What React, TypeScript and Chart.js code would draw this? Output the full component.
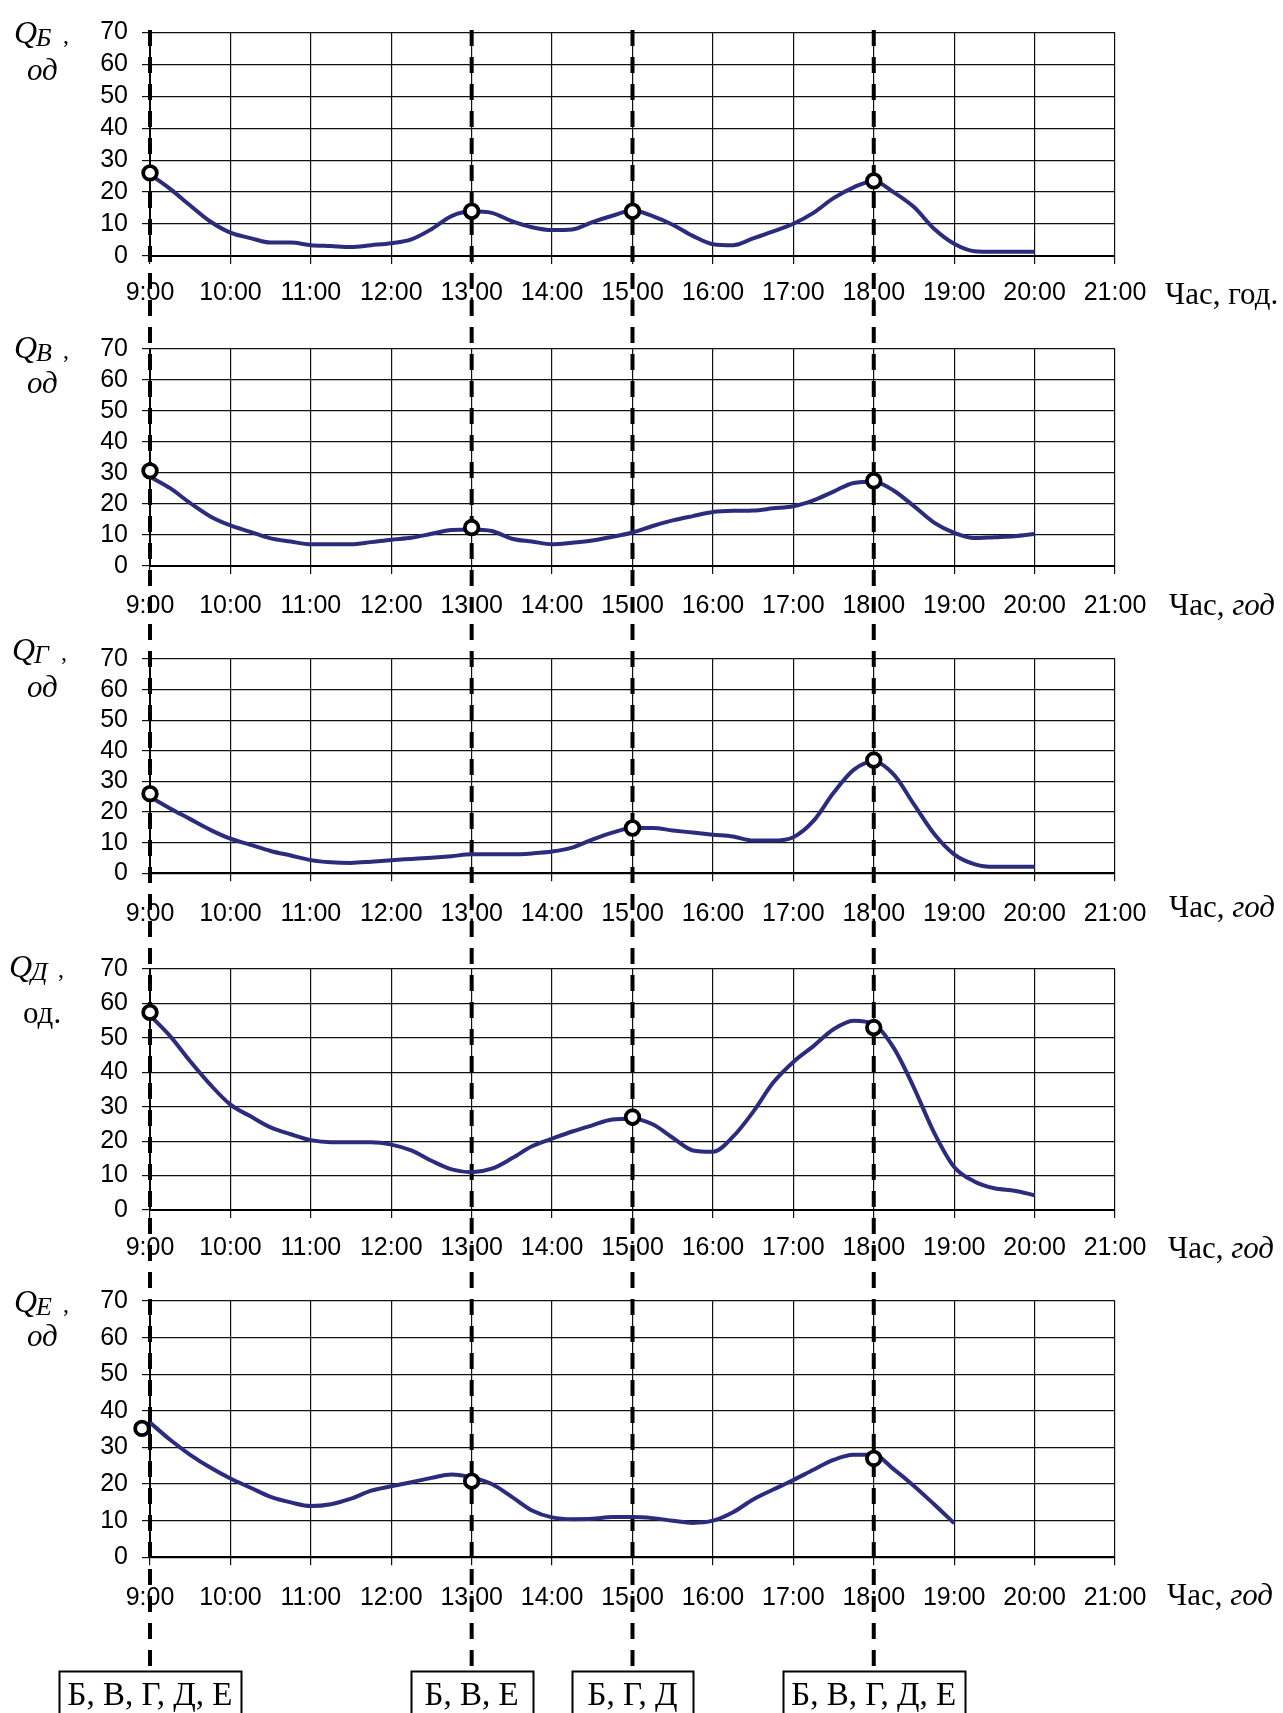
import React, { useEffect, useRef } from 'react';
import { Chart, registerables } from 'chart.js';

Chart.register(...registerables);

// ---------- DATA ----------
const TIMES = [
  9, 9.25, 9.5, 9.75, 10, 10.25, 10.5, 10.75, 11, 11.25, 11.5, 11.75,
  12, 12.25, 12.5, 12.75, 13, 13.25, 13.5, 13.75, 14, 14.25, 14.5, 14.75,
  15, 15.25, 15.5, 15.75, 16, 16.25, 16.5, 16.75, 17, 17.25, 17.5, 17.75,
  18, 18.25, 18.5, 18.75, 19, 19.25, 19.5, 19.75, 20,
];

const X_TICK_LABELS = [
  '9:00', '10:00', '11:00', '12:00', '13:00', '14:00', '15:00',
  '16:00', '17:00', '18:00', '19:00', '20:00', '21:00',
];

const Q_B = [25.5, 21, 15.8, 10.8, 7.3, 5.6, 4.2, 4.2, 3.4, 3.1, 2.8, 3.4, 4.0, 5.2, 8.4, 12.5, 14.0, 13.5, 10.9, 9.0, 8.1, 8.3, 10.6, 12.6, 14.2, 12.5, 9.8, 6.3, 3.7, 3.4, 5.5, 7.7, 10.1, 13.5, 18.1, 21.5, 23.5, 19.9, 15.3, 8.5, 3.8, 1.5, 1.3, 1.3, 1.3];
const Q_V = [28.8, 25.1, 20.3, 16.0, 13.1, 11.0, 8.9, 7.9, 7.0, 7.0, 7.0, 7.7, 8.5, 9.1, 10.4, 11.6, 11.8, 11.3, 8.8, 7.9, 7.0, 7.5, 8.2, 9.4, 10.8, 12.9, 14.7, 16.1, 17.4, 17.8, 17.9, 18.6, 19.3, 21.2, 24.0, 26.8, 27.2, 24.3, 19.3, 14.0, 10.7, 9.0, 9.3, 9.6, 10.3];
const Q_G = [25, 21.2, 17.7, 14.2, 11.3, 9.3, 7.3, 5.8, 4.3, 3.6, 3.4, 3.8, 4.3, 4.7, 5.1, 5.6, 6.2, 6.2, 6.2, 6.5, 7.1, 8.4, 11.0, 13.3, 14.8, 14.8, 14.0, 13.3, 12.6, 12.0, 10.7, 10.7, 11.8, 17.1, 26.3, 33.8, 36.5, 32.2, 22.5, 12.9, 6.2, 3.0, 2.1, 2.1, 2.1];
const Q_D = [56.5, 50.5, 43.2, 36.4, 30.6, 27.2, 24.0, 22.0, 20.3, 19.7, 19.7, 19.7, 19.0, 17.3, 14.3, 11.8, 11.0, 12.0, 15.0, 18.5, 20.7, 22.8, 24.6, 26.3, 26.5, 24.9, 21.0, 17.3, 16.9, 21.3, 28.5, 37.0, 43.0, 47.6, 52.5, 55.0, 54.0, 47.0, 35.5, 22.5, 12.5, 8.3, 6.3, 5.6, 4.3];
const Q_E = [36.8, 32.1, 28.0, 24.5, 21.5, 19.0, 16.5, 15.0, 14.0, 14.5, 16.0, 18.2, 19.4, 20.5, 21.7, 22.6, 21.8, 20.0, 16.5, 12.8, 10.9, 10.4, 10.5, 11.0, 11.0, 10.7, 10.0, 9.4, 10.0, 12.3, 15.8, 18.5, 21.1, 23.9, 26.6, 28.0, 28.0, 24.0, 19.5, 14.5, 9.3];

const MARK_B_T = [9, 13, 15, 18];
const MARK_B_V = [26, 14, 14, 23.5];
const MARK_V_T = [9, 13, 18];
const MARK_V_V = [30.7, 12.4, 27.5];
const MARK_G_T = [9, 15, 18];
const MARK_G_V = [26, 14.8, 37];
const MARK_D_T = [9, 15, 18];
const MARK_D_V = [57.4, 27, 53];
const MARK_E_T = [8.9, 13, 18];
const MARK_E_V = [35.2, 20.8, 27];

const DASH_TIMES = [9, 13, 15, 18];
const BOX_LABELS = ['Б, В, Г, Д, Е', 'Б, В, Е', 'Б, Г, Д', 'Б, В, Г, Д, Е'];

// ---------- LAYOUT / STYLE ----------
const W = 1283;
const PLOT_LEFT = 150;
const PLOT_RIGHT = 1115;
const SANS = "'Liberation Sans', Arial, sans-serif";
const SERIF = "'Liberation Serif', 'Times New Roman', serif";
const LINE_COLOR = '#2c2c7e';
const GRID_COLOR = '#111111';
const DASH_TOP = 30;
const DASH_PATTERN = [16, 11];
const BOX_TOP = 1671;
const BOX_TEXT_BASE = 1705;
const BOX_WIDTHS = [182, 122, 121, 182];
const TICK_FONT_SIZE = 25;

type PanelCfg = {
  series: number[];
  markT: number[];
  markV: number[];
  sub: string;
  od: string;
  odItalic: boolean;
  axisItalic: boolean;
  canvasTop: number;
  canvasH: number;
  plotTop: number;
  plotBottom: number;
  xPad: number;
  qLeft: number;
  qBase: number;
  odLeft: number;
  odBase: number;
  axLeft: number;
  axBase: number;
  last: boolean;
};

const PANELS: PanelCfg[] = [
  { series: Q_B, markT: MARK_B_T, markV: MARK_B_V, sub: 'Б', od: 'од', odItalic: true, axisItalic: false,
    canvasTop: 0, canvasH: 320, plotTop: 32.3, plotBottom: 256, xPad: 14.5,
    qLeft: 14, qBase: 43, odLeft: 27, odBase: 80, axLeft: 1165, axBase: 304, last: false },
  { series: Q_V, markT: MARK_V_T, markV: MARK_V_V, sub: 'В', od: 'од', odItalic: true, axisItalic: true,
    canvasTop: 320, canvasH: 310, plotTop: 347.3, plotBottom: 566, xPad: 17,
    qLeft: 14, qBase: 358, odLeft: 27, odBase: 393, axLeft: 1169, axBase: 615, last: false },
  { series: Q_G, markT: MARK_G_T, markV: MARK_G_V, sub: 'Г', od: 'од', odItalic: true, axisItalic: true,
    canvasTop: 630, canvasH: 310, plotTop: 655.7, plotBottom: 873.3, xPad: 17.8,
    qLeft: 12, qBase: 660, odLeft: 27, odBase: 697, axLeft: 1169, axBase: 917, last: false },
  { series: Q_D, markT: MARK_D_T, markV: MARK_D_V, sub: 'Д', od: 'од.', odItalic: false, axisItalic: true,
    canvasTop: 940, canvasH: 330, plotTop: 966, plotBottom: 1210, xPad: 15.2,
    qLeft: 9, qBase: 977, odLeft: 23, odBase: 1023, axLeft: 1168, axBase: 1258, last: false },
  { series: Q_E, markT: MARK_E_T, markV: MARK_E_V, sub: 'Е', od: 'од', odItalic: true, axisItalic: true,
    canvasTop: 1270, canvasH: 443, plotTop: 1301, plotBottom: 1557.3, xPad: 18,
    qLeft: 14, qBase: 1312, odLeft: 27, odBase: 1346, axLeft: 1167, axBase: 1605, last: true },
];

function makePlugins(p: PanelCfg) {
  const dashes = {
    id: 'dashes',
    beforeDatasetsDraw(chart: any) {
      const ctx = chart.ctx;
      const xs = chart.scales.x;
      const y0 = Math.max(0, DASH_TOP - p.canvasTop);
      const y1 = p.last ? BOX_TOP - p.canvasTop : chart.height;
      const period = DASH_PATTERN[0] + DASH_PATTERN[1];
      ctx.save();
      ctx.strokeStyle = '#000';
      ctx.lineWidth = 4;
      ctx.setLineDash(DASH_PATTERN);
      ctx.lineDashOffset = (p.canvasTop + y0 - DASH_TOP) % period;
      for (const t of DASH_TIMES) {
        const x = xs.getPixelForValue(t);
        ctx.beginPath();
        ctx.moveTo(x, y0);
        ctx.lineTo(x, y1);
        ctx.stroke();
      }
      ctx.restore();
    },
  };
  const texts = {
    id: 'texts',
    afterDraw(chart: any) {
      const ctx = chart.ctx;
      const off = p.canvasTop;
      ctx.save();
      ctx.fillStyle = '#000';
      ctx.textBaseline = 'alphabetic';
      ctx.textAlign = 'left';
      // Y title: Q_x ,
      let x = p.qLeft;
      ctx.font = `italic 32px ${SERIF}`;
      ctx.fillText('Q', x, p.qBase - off);
      x += ctx.measureText('Q').width - 1;
      ctx.font = `italic 26px ${SERIF}`;
      ctx.fillText(p.sub, x, p.qBase + 3 - off);
      ctx.font = `24px ${SERIF}`;
      ctx.fillText(',', p.qLeft + 49, p.qBase - off);
      // units
      ctx.font = `${p.odItalic ? 'italic ' : ''}31px ${SERIF}`;
      ctx.fillText(p.od, p.odLeft, p.odBase - off);
      // X title
      ctx.font = `31px ${SERIF}`;
      if (p.axisItalic) {
        ctx.fillText('Час, ', p.axLeft, p.axBase - off);
        const w = ctx.measureText('Час, ').width;
        ctx.font = `italic 31px ${SERIF}`;
        ctx.fillText('год', p.axLeft + w, p.axBase - off);
      } else {
        ctx.fillText('Час, год.', p.axLeft, p.axBase - off);
      }
      // boxes at the bottom
      if (p.last) {
        const xs = chart.scales.x;
        ctx.strokeStyle = '#000';
        ctx.lineWidth = 2;
        ctx.font = `33px ${SERIF}`;
        ctx.textAlign = 'center';
        DASH_TIMES.forEach((t, i) => {
          const cx = xs.getPixelForValue(t);
          const bw = BOX_WIDTHS[i];
          const top = BOX_TOP - off;
          ctx.strokeRect(Math.round(cx - bw / 2) + 0.5, top + 0.5, bw, chart.height - top + 10);
          ctx.fillText(BOX_LABELS[i], cx, BOX_TEXT_BASE - off);
        });
      }
      ctx.restore();
    },
  };
  return [dashes, texts];
}

function Panel({ cfg }: { cfg: PanelCfg }) {
  const ref = useRef<HTMLCanvasElement | null>(null);
  useEffect(() => {
    const canvas = ref.current;
    if (!canvas) return;
    const lineData = cfg.series.map((v, i) => ({ x: TIMES[i], y: v }));
    const markData = cfg.markT.map((t, i) => ({ x: t, y: cfg.markV[i] }));
    const chart = new Chart(canvas, {
      type: 'line',
      data: {
        datasets: [
          {
            data: markData,
            showLine: false,
            pointRadius: 6.8,
            pointBorderWidth: 3.8,
            pointBackgroundColor: '#fff',
            pointBorderColor: '#000',
            clip: false,
            order: 0,
          } as any,
          {
            data: lineData,
            borderColor: LINE_COLOR,
            borderWidth: 4,
            pointRadius: 0,
            fill: false,
            cubicInterpolationMode: 'monotone',
            order: 1,
          } as any,
        ],
      },
      options: {
        responsive: false,
        animation: false,
        devicePixelRatio: 1,
        events: [],
        layout: {
          padding: { top: cfg.plotTop - cfg.canvasTop, left: 0, right: W - PLOT_RIGHT, bottom: 0 },
        },
        plugins: { legend: { display: false }, tooltip: { enabled: false } },
        scales: {
          x: {
            type: 'linear',
            min: 9,
            max: 21,
            afterFit: (s: any) => { s.height = cfg.canvasTop + cfg.canvasH - cfg.plotBottom; },
            ticks: {
              stepSize: 1,
              autoSkip: false,
              maxRotation: 0,
              padding: cfg.xPad,
              color: '#000',
              font: { family: SANS, size: TICK_FONT_SIZE },
              callback: (_v: any, i: number) => X_TICK_LABELS[i],
            },
            grid: { color: GRID_COLOR, lineWidth: 1.2, tickLength: 8, tickColor: GRID_COLOR },
            border: { color: '#000', width: 2 },
          },
          y: {
            min: 0,
            max: 70,
            afterFit: (s: any) => { s.width = PLOT_LEFT; },
            ticks: {
              stepSize: 10,
              autoSkip: false,
              padding: 14,
              color: '#000',
              font: { family: SANS, size: TICK_FONT_SIZE },
            },
            grid: { color: GRID_COLOR, lineWidth: 1.2, tickLength: 8, tickColor: GRID_COLOR },
            border: { color: '#000', width: 2 },
          },
        },
      } as any,
      plugins: makePlugins(cfg) as any,
    });
    return () => chart.destroy();
  }, [cfg]);
  return (
    <canvas
      ref={ref}
      width={W}
      height={cfg.canvasH}
      style={{ position: 'absolute', left: 0, top: cfg.canvasTop, width: W, height: cfg.canvasH, display: 'block' }}
    />
  );
}

export default function App() {
  return (
    <div style={{ position: 'absolute', left: 0, top: 0, width: W, height: 1713, background: '#fff', overflow: 'hidden' }}>
      {PANELS.map((p, i) => (
        <Panel key={i} cfg={p} />
      ))}
    </div>
  );
}
